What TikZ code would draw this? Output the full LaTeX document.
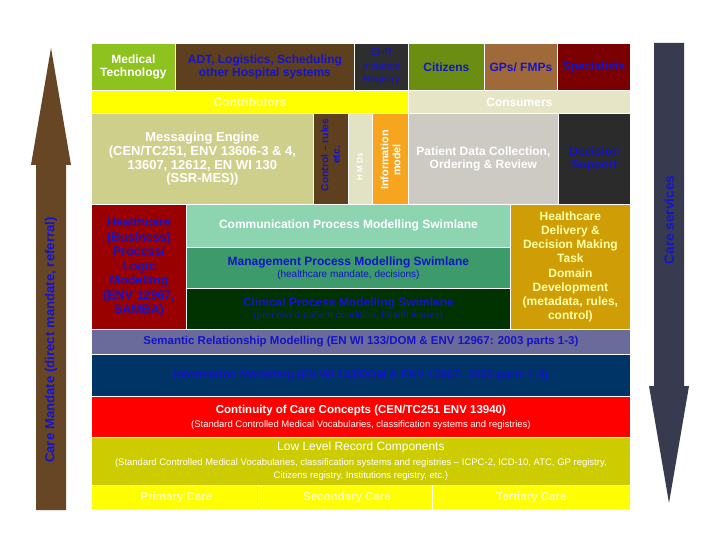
\documentclass[tikz,border=0pt]{standalone}
\usepackage{fontspec}
\setmainfont{Liberation Sans}
\definecolor{medtech}{HTML}{8DC21F}
\definecolor{adtbrown}{HTML}{5E3F1E}
\definecolor{ehrgrey}{HTML}{2E2E2E}
\definecolor{citizens}{HTML}{6B8E12}
\definecolor{gps}{HTML}{A0693A}
\definecolor{specialists}{HTML}{7B0000}
\definecolor{contrib}{HTML}{FFFF00}
\definecolor{consumers}{HTML}{E6E6C6}
\definecolor{messaging}{HTML}{CFCF8C}
\definecolor{hmds}{HTML}{E2E2C4}
\definecolor{infomodel}{HTML}{F7A41E}
\definecolor{patient}{HTML}{CDCAC4}
\definecolor{decision}{HTML}{2B2B2B}
\definecolor{hcbiz}{HTML}{990000}
\definecolor{comm}{HTML}{8CD5B0}
\definecolor{mgmt}{HTML}{3C9A6B}
\definecolor{clinical}{HTML}{003300}
\definecolor{delivery}{HTML}{CF9E06}
\definecolor{semantic}{HTML}{6B6B9B}
\definecolor{infomod}{HTML}{003366}
\definecolor{continuity}{HTML}{FF0000}
\definecolor{lowlevel}{HTML}{CCCC00}
\definecolor{leftarr}{HTML}{674626}
\definecolor{rightarr}{HTML}{383B4F}
\definecolor{txtblue}{HTML}{1414C8}
\definecolor{paleyel}{HTML}{FFFFA8}
\newcommand\subswim{\fontsize{10}{11}\selectfont\mdseries}
\newcommand\subreg{\fontsize{9.5}{11}\selectfont\mdseries}
\tikzset{
  cell/.style={draw=white, line width=0.8pt, inner sep=1pt, anchor=north west, align=center},
  fbig/.style={font=\fontsize{12}{13.8}\selectfont\bfseries},
  fwide/.style={font=\fontsize{11.5}{13.6}\selectfont\bfseries},
  freg/.style={font=\fontsize{12}{13.8}\selectfont},
  fsmall/.style={font=\fontsize{10}{13.5}\selectfont},
  rtext/.style={rotate=90, align=center, inner sep=0pt, font=\fontsize{10.3}{11.5}\selectfont\bfseries}
}
\begin{document}
\begin{tikzpicture}[x=1pt,y=-1pt]
\useasboundingbox (0,0) rectangle (720,540);
\fill[white] (0,0) rectangle (720,540);
% top row
\node[cell, fill=medtech, minimum width=84, minimum height=47, fbig, text=white] (medtech) at (91,43) {Medical\\Technology};
\node[cell, fill=adtbrown, minimum width=179, minimum height=47, fbig, text=txtblue] (adt) at (175,43) {ADT, Logistics, Scheduling\\other Hospital systems};
\node[cell, fill=ehrgrey, minimum width=54, minimum height=47, fsmall, text=txtblue] (ehr) at (354,43) {EHR\\instance\\Registry};
\node[cell, fill=citizens, minimum width=76, minimum height=47, fbig, text=txtblue] (citizens) at (408,43) {Citizens};
\node[cell, fill=gps, minimum width=73, minimum height=47, fbig, text=txtblue] (gps) at (484,43) {GPs/ FMPs};
\node[cell, fill=specialists, minimum width=73, minimum height=47, fbig, text=txtblue] (spec) at (557,43) {Specialists};
% contributors / consumers
\node[cell, fill=contrib, minimum width=317, minimum height=23, fbig, text=paleyel] (contrib) at (91,90) {Contributors};
\node[cell, fill=consumers, minimum width=222, minimum height=23, fbig, text=white] (consumers) at (408,90) {Consumers};
% row 3
\node[cell, fill=messaging, minimum width=222, minimum height=91, text=white, font=\fontsize{13}{13.8}\selectfont\bfseries] (msg) at (91,113) {Messaging Engine\\(CEN/TC251, ENV 13606-3 \& 4,\\13607, 12612, EN WI 130\\(SSR-MES))};
\node[cell, fill=adtbrown, minimum width=35, minimum height=91] (ctrl) at (313,113) {};
\node[cell, fill=hmds, minimum width=24, minimum height=91] (hmdsbox) at (348,113) {};
\node[cell, fill=infomodel, minimum width=36, minimum height=91] (infobox) at (372,113) {};
\node[rtext, text=txtblue] (ctrltext) at (330.5,155) {Control – rules\\etc.};
\node[rtext, text=white, font=\fontsize{8}{9}\selectfont\bfseries] (hmdstext) at (360,167) {H M Ds};
\node[rtext, text=white, font=\fontsize{10.8}{11.8}\selectfont\bfseries] (infotext) at (390.5,160) {Information\\model};
\node[cell, fill=patient, minimum width=150, minimum height=91, fbig, text=white] (patient) at (408,113) {Patient Data Collection,\\Ordering \& Review};
\node[cell, fill=decision, minimum width=72, minimum height=91, fbig, text=txtblue] (decision) at (558,113) {Decision\\Support};
% row 4
\node[cell, fill=hcbiz, minimum width=95, minimum height=125, text=txtblue, font=\fontsize{12.5}{14.5}\selectfont\bfseries] (hcbiz) at (91,204) {Healthcare\\(Business)\\Process/\\Logic\\Modelling\\(ENV 12967,\\SAMBA)};
\node[cell, fill=comm, minimum width=324, minimum height=43, fbig, text=white] (comm) at (186,204) {Communication Process Modelling Swimlane};
\node[cell, fill=mgmt, minimum width=324, minimum height=41, text=txtblue, fbig] (mgmt) at (186,247) {Management Process Modelling Swimlane\\[-1.5pt]\subswim (healthcare mandate, decisions)};
\node[cell, fill=clinical, minimum width=324, minimum height=41, text=txtblue, fbig] (clinical) at (186,288) {Clinical Process Modelling Swimlane\\[-1.5pt]\subswim (perceived patient condition, health issues)};
\node[cell, fill=delivery, minimum width=120, minimum height=125, text=paleyel, font=\fontsize{12}{14.1}\selectfont\bfseries] (delivery) at (510,204) {Healthcare\\Delivery \&\\Decision Making\\Task\\Domain\\Development\\(metadata, rules,\\control)};
% wide rows
\node[cell, fill=semantic, minimum width=539, minimum height=25, fwide, text=txtblue] (semantic) at (91,329) {Semantic Relationship Modelling (EN WI 133/DOM \& ENV 12967: 2003 parts 1-3)};
\node[cell, fill=infomod, minimum width=539, minimum height=42, fwide, text=txtblue] (infomod) at (91,354) {Information Modelling (EN WI 133/DOM \& ENV 12967: 2003 parts 1-3)};
\node[cell, fill=continuity, minimum width=539, minimum height=41, text=white, fwide] (continuity) at (91,396) {Continuity of Care Concepts (CEN/TC251 ENV 13940)\\[0.5pt]\subreg (Standard Controlled Medical Vocabularies, classification systems and registries)};
\node[cell, fill=lowlevel, minimum width=539, minimum height=48, text=white, freg] (lowlevel) at (91,437) {Low Level Record Components\\[1pt]\subreg (Standard Controlled Medical Vocabularies, classification systems and registries – ICPC-2, ICD-10, ATC, GP registry,\\[-0.5pt]\subreg Citizens registry, Institutions registry, etc.)};
\node[cell, fill=contrib, minimum width=170, minimum height=24, fwide, text=paleyel] (primary) at (91,485) {Primary Care};
\node[cell, fill=contrib, minimum width=171, minimum height=24, fwide, text=paleyel] (secondary) at (261,485) {Secondary Care};
\node[cell, fill=contrib, minimum width=198, minimum height=24, fwide, text=paleyel] (tertiary) at (432,485) {Tertiary Care};
% arrows
\fill[leftarr] (51,48) -- (71,165) -- (66,165) -- (66,510) -- (36,510) -- (36,165) -- (31,165) -- cycle;
\node[rotate=90, inner sep=0pt, text=txtblue, font=\fontsize{13.2}{15}\selectfont\bfseries] (mandate) at (51,340) {Care Mandate (direct mandate, referral)};
\fill[rightarr] (654,43) -- (684,43) -- (684,386) -- (689,386) -- (669,503) -- (649,386) -- (654,386) -- cycle;
\node[rotate=90, inner sep=0pt, text=txtblue, font=\fontsize{13.6}{15}\selectfont\bfseries] (services) at (669,220) {Care services};
\end{tikzpicture}
\end{document}
